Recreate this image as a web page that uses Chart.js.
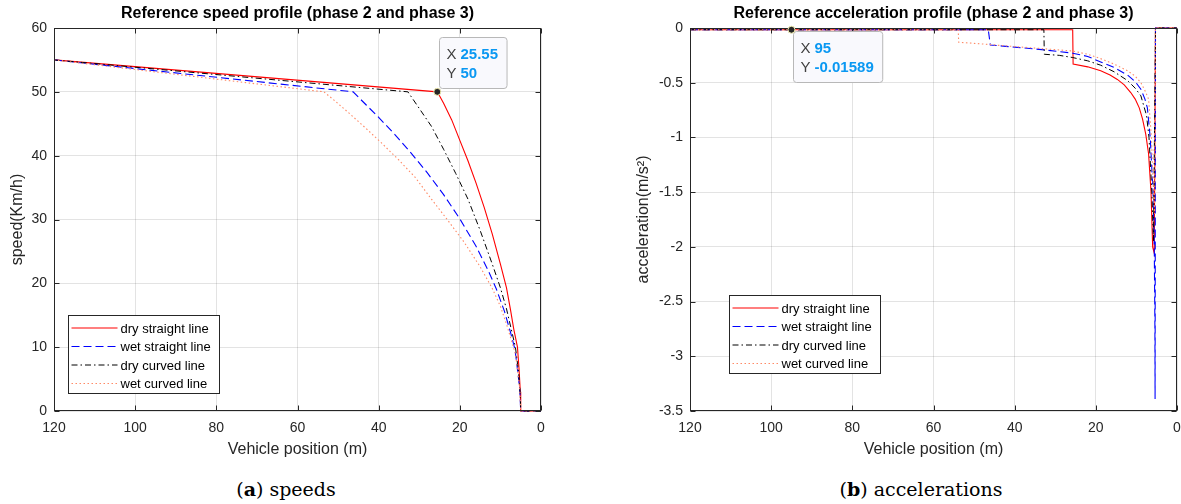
<!DOCTYPE html>
<html lang="en">
  <head>
    <meta charset="UTF-8" />
    <title>Reference speed and acceleration profiles</title>
    <script src="https://cdn.jsdelivr.net/npm/chart.js@4"></script>
    <style>
      body {
        margin: 0;
        background: #fff;
        width: 1181px;
        height: 504px;
        position: relative;
        overflow: hidden;
        font-family: "Liberation Sans", Arial, sans-serif;
      }
      .panel {
        position: absolute;
        top: 0;
      }
      .caption {
        position: absolute;
        top: 478px;
        line-height: 22px;
        font-family: "DejaVu Serif", "Liberation Serif", serif;
        font-size: 19px;
        color: #000;
        transform: translateX(-50%);
        white-space: nowrap;
      }
    </style>
  </head>
  <body>
    <div class="panel" style="left: 0">
      <canvas id="speedChart" width="590" height="470"></canvas>
    </div>
    <div class="panel" style="left: 590px">
      <canvas id="accChart" width="591" height="470"></canvas>
    </div>
    <div class="caption" style="left: 286px">(<b>a</b>) speeds</div>
    <div class="caption" style="left: 921px">(<b>b</b>) accelerations</div>

    <script>
      // axis ticks
      const positionTicks = [0, 20, 40, 60, 80, 100, 120];
      const speedTicks = [0, 10, 20, 30, 40, 50, 60];
      const accelTicks = [0, -0.5, -1, -1.5, -2, -2.5, -3, -3.5];

      const seriesNames = [
        "dry straight line",
        "wet straight line",
        "dry curved line",
        "wet curved line",
      ];

      // (a) speed (km/h) vs vehicle position (m)
      const dryStraightPos = [120, 25.55, 24, 22, 20, 18, 16, 14, 12, 10, 8.5, 7.5, 6.7, 5.8, 5.4, 5.1, 5.0, 0];
      const dryStraightSpeed = [55, 50, 48.2, 45.6, 42.4, 39.2, 35.7, 31.9, 27.7, 23.0, 19.3, 15.8, 12.8, 10, 6.5, 3, 0, 0];

      const wetStraightPos = [120, 46.3, 43, 40, 36, 32, 28, 24, 20, 16, 13, 11, 9, 7.5, 6.4, 5.6, 5.2, 5.0, 0];
      const wetStraightSpeed = [55, 50, 47.9, 46.0, 43.3, 40.4, 37.3, 33.9, 30.1, 25.8, 22.0, 19.1, 15.6, 12.3, 9.6, 5.5, 3, 0, 0];

      const dryCurvedPos = [120, 32.8, 30, 27, 24, 21, 18, 15, 12, 10, 8.5, 7.4, 6.3, 5.5, 5.1, 5.0, 0];
      const dryCurvedSpeed = [55, 50, 47.4, 44.6, 41.0, 37.2, 33.2, 28.3, 23.0, 19.3, 16.0, 13.0, 10, 6, 2.5, 0, 0];

      const wetCurvedPos = [120, 53.5, 51, 47, 43, 39, 35, 31, 27, 23, 19, 15, 12, 10, 8.5, 7.2, 6.3, 5.6, 5.2, 5.0, 0];
      const wetCurvedSpeed = [55, 50, 48.7, 46.5, 44.2, 41.8, 39.3, 36.6, 33.2, 29.9, 26.5, 22.6, 19.2, 16.4, 13.6, 10.9, 9.0, 5.5, 3, 0, 0];

      // (b) acceleration (m/s^2) vs vehicle position (m)
      const dryStraightAccPos = [120, 25.7, 25.6, 22, 18.8, 16.5, 14.7, 13, 11.4, 10.3, 9.3, 8.5, 7.7, 7.0, 6.4, 6.0, 5.6, 5.3, 0];
      const dryStraightAcc = [-0.016, -0.016, -0.33, -0.355, -0.39, -0.43, -0.47, -0.52, -0.59, -0.65, -0.73, -0.83, -0.97, -1.15, -1.5, -2.0, -2.06, 0, 0];

      const wetStraightAccPos = [120, 46.5, 46.0, 40, 32.7, 25.7, 22, 18.8, 15.5, 12.2, 10.3, 8.9, 7.9, 7.3, 6.6, 5.9, 5.6, 5.45, 5.4, 5.3, 0];
      const wetStraightAcc = [-0.016, -0.016, -0.155, -0.175, -0.2, -0.23, -0.26, -0.31, -0.36, -0.43, -0.49, -0.56, -0.65, -0.73, -1.0, -1.5, -2.0, -2.7, -3.39, 0, 0];

      const dryCurvedAccPos = [120, 32.8, 32.7, 29, 25.7, 22, 18.8, 15.5, 12.2, 10.3, 8.9, 7.5, 6.9, 6.2, 5.8, 5.3, 0];
      const dryCurvedAcc = [-0.016, -0.016, -0.24, -0.25, -0.27, -0.3, -0.34, -0.4, -0.48, -0.55, -0.62, -0.8, -1.0, -1.5, -1.95, 0, 0];

      const wetCurvedAccPos = [120, 53.9, 53.8, 46.5, 40, 32.7, 25.7, 22, 18.8, 15.5, 12.2, 10.3, 8.9, 7.8, 7.0, 6.3, 5.8, 5.5, 5.3, 0];
      const wetCurvedAcc = [-0.016, -0.016, -0.13, -0.15, -0.17, -0.19, -0.21, -0.24, -0.28, -0.33, -0.39, -0.44, -0.5, -0.58, -0.65, -1.0, -1.5, -1.7, 0, 0];

      // data tips shown on the figures
      const speedTip = [25.55, 50];
      const accelTip = [95, -0.01589];

      const FONT = '"Liberation Sans", Arial, Helvetica, sans-serif';
      const axisColor = "#262626";
      const gridColor = "rgba(38,38,38,0.13)";

      const lineStyles = [
        { color: "#ff0000", dash: [], width: 1.1 },
        { color: "#0000ff", dash: [8, 4], width: 1.1 },
        { color: "#000000", dash: [6, 3, 1.5, 3], width: 1 },
        { color: "#ff8a66", dash: [1.5, 2.5], width: 1.1 },
      ];

      function pts(xs, ys) {
        return xs.map((x, i) => ({ x: x, y: ys[i] }));
      }

      function makeDatasets(groups) {
        return groups.map((g, i) => ({
          label: seriesNames[i],
          data: pts(g[0], g[1]),
          borderColor: lineStyles[i].color,
          borderDash: lineStyles[i].dash,
          borderWidth: lineStyles[i].width,
          pointRadius: 0,
          showLine: true,
          fill: false,
          tension: 0,
          clip: false,
          order: groups.length - i, // last series on top, like matlab
        }));
      }

      // box, inward ticks, title, legend and data tip
      const matlabAxes = {
        id: "matlabAxes",
        afterDraw(chart, args, opts) {
          const { ctx, chartArea: a, scales } = chart;
          const L = Math.round(a.left) + 0.5;
          const R = Math.round(a.right) - 0.5;
          const T = Math.round(a.top) + 0.5;
          const B = Math.round(a.bottom) - 0.5;
          ctx.save();

          ctx.strokeStyle = axisColor;
          ctx.lineWidth = 1;
          ctx.setLineDash([]);
          ctx.beginPath();
          scales.y.ticks.forEach((t) => {
            const y = Math.round(scales.y.getPixelForValue(t.value)) + 0.5;
            ctx.moveTo(L, y);
            ctx.lineTo(L + 5, y);
            ctx.moveTo(R, y);
            ctx.lineTo(R - 5, y);
          });
          scales.x.ticks.forEach((t) => {
            const x = Math.round(scales.x.getPixelForValue(t.value)) + 0.5;
            ctx.moveTo(x, B);
            ctx.lineTo(x, B - 5);
            ctx.moveTo(x, T);
            ctx.lineTo(x, T + 5);
          });
          ctx.stroke();
          ctx.strokeRect(L, T, R - L, B - T);

          // title
          ctx.fillStyle = "#000";
          ctx.font = "bold 16px " + FONT;
          ctx.textAlign = "center";
          ctx.textBaseline = "middle";
          ctx.fillText(opts.title, (a.left + a.right) / 2, 14);

          // legend
          const lx = opts.legendX + 0.5;
          const ly = opts.legendY + 0.5;
          const lw = 151;
          const lh = 78;
          ctx.fillStyle = "#fff";
          ctx.fillRect(lx, ly, lw, lh);
          ctx.strokeStyle = axisColor;
          ctx.strokeRect(lx, ly, lw, lh);
          ctx.font = "13px " + FONT;
          ctx.textAlign = "left";
          chart.data.datasets.forEach((ds, i) => {
            const y = ly + 12.5 + i * 18.5;
            ctx.strokeStyle = ds.borderColor;
            ctx.lineWidth = ds.borderWidth;
            ctx.setLineDash(ds.borderDash);
            ctx.beginPath();
            ctx.moveTo(lx + 3, y);
            ctx.lineTo(lx + 49, y);
            ctx.stroke();
            ctx.fillStyle = "#000";
            ctx.fillText(ds.label, lx + 52, y + 1);
          });
          ctx.setLineDash([]);

          // data tip
          const tip = opts.tip;
          const px = scales.x.getPixelForValue(tip[0]);
          const py = scales.y.getPixelForValue(tip[1]);
          const lines = [
            ["X", String(tip[0])],
            ["Y", String(tip[1])],
          ];
          ctx.font = "bold 15px " + FONT;
          const valW = Math.max(...lines.map((l) => ctx.measureText(l[1]).width));
          ctx.font = "15px " + FONT;
          const labW = ctx.measureText("X").width;
          const bw = 7 + labW + 4 + valW + 9;
          const bh = 51;
          const bx = Math.round(px + 2) + 0.5;
          const by = Math.round(opts.tipBelow ? py + 1 : py - 4 - bh) + 0.5;
          ctx.fillStyle = "#f9f9fd";
          ctx.strokeStyle = "#b8b8b8";
          ctx.lineWidth = 1;
          ctx.beginPath();
          ctx.roundRect(bx, by, bw, bh, 3);
          ctx.fill();
          ctx.stroke();
          lines.forEach((l, i) => {
            const ty = by + 17.5 + i * 19;
            ctx.font = "15px " + FONT;
            ctx.fillStyle = "#404040";
            ctx.fillText(l[0], bx + 7, ty);
            ctx.font = "bold 15px " + FONT;
            ctx.fillStyle = "#0a98f2";
            ctx.fillText(l[1], bx + 7 + labW + 4, ty);
          });
          ctx.beginPath();
          ctx.arc(px, py, 3.5, 0, Math.PI * 2);
          ctx.fillStyle = "#262626";
          ctx.fill();
          ctx.strokeStyle = "#f2eeb0";
          ctx.lineWidth = 1;
          ctx.stroke();

          ctx.restore();
        },
      };

      function scaleOptions(yTicks, yTitle, yWidth, yTitlePad) {
        const tickFont = { family: FONT, size: 14 };
        const titleFont = { family: FONT, size: 16 };
        return {
          x: {
            type: "linear",
            reverse: true,
            min: 0,
            max: 120,
            afterBuildTicks: (s) => {
              s.ticks = positionTicks.map((v) => ({ value: v }));
            },
            afterFit: (s) => {
              s.height = 59;
            },
            grid: { color: gridColor, drawTicks: false },
            border: { display: false },
            ticks: { font: tickFont, color: axisColor, padding: 9, maxRotation: 0 },
            title: {
              display: true,
              text: "Vehicle position (m)",
              font: titleFont,
              color: axisColor,
              padding: { top: 0, bottom: 10.4 },
            },
          },
          y: {
            type: "linear",
            min: Math.min(...yTicks),
            max: Math.max(...yTicks),
            afterBuildTicks: (s) => {
              s.ticks = yTicks.map((v) => ({ value: v }));
            },
            afterFit: (s) => {
              s.width = yWidth;
            },
            grid: { color: gridColor, drawTicks: false },
            border: { display: false },
            ticks: {
              font: tickFont,
              color: axisColor,
              padding: 7,
              callback: (v) => String(v),
            },
            title: {
              display: true,
              text: yTitle,
              font: titleFont,
              color: axisColor,
              padding: { top: yTitlePad, bottom: 0 },
            },
          },
        };
      }

      new Chart(document.getElementById("speedChart"), {
        type: "scatter",
        data: {
          datasets: makeDatasets([
            [dryStraightPos, dryStraightSpeed],
            [wetStraightPos, wetStraightSpeed],
            [dryCurvedPos, dryCurvedSpeed],
            [wetCurvedPos, wetCurvedSpeed],
          ]),
        },
        options: {
          responsive: false,
          animation: false,
          events: [],
          layout: { padding: { top: 28, right: 49, left: 0, bottom: 0 } },
          scales: scaleOptions(speedTicks, "speed(Km/h)", 54, 8.4),
          plugins: {
            legend: { display: false },
            tooltip: { enabled: false },
            matlabAxes: {
              title: "Reference speed profile (phase 2 and phase 3)",
              legendX: 68,
              legendY: 315,
              tip: speedTip,
              tipBelow: false,
            },
          },
        },
        plugins: [matlabAxes],
      });

      new Chart(document.getElementById("accChart"), {
        type: "scatter",
        data: {
          datasets: makeDatasets([
            [dryStraightAccPos, dryStraightAcc],
            [wetStraightAccPos, wetStraightAcc],
            [dryCurvedAccPos, dryCurvedAcc],
            [wetCurvedAccPos, wetCurvedAcc],
          ]),
        },
        options: {
          responsive: false,
          animation: false,
          events: [],
          layout: { padding: { top: 28, right: 4, left: 0, bottom: 0 } },
          scales: scaleOptions(accelTicks, "acceleration(m/s²)", 100, 44.4),
          plugins: {
            legend: { display: false },
            tooltip: { enabled: false },
            matlabAxes: {
              title: "Reference acceleration profile (phase 2 and phase 3)",
              legendX: 139,
              legendY: 295,
              tip: accelTip,
              tipBelow: true,
            },
          },
        },
        plugins: [matlabAxes],
      });
    </script>
  </body>
</html>
